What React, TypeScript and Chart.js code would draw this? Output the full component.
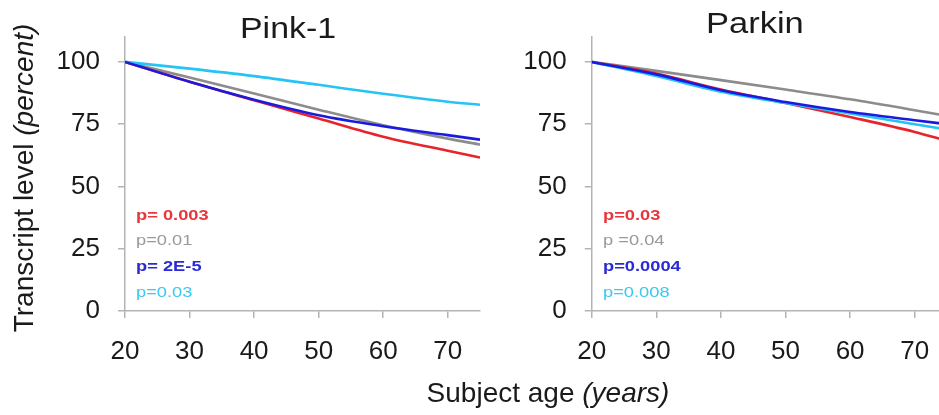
import React, { useEffect, useRef } from "react";
import { Chart, registerables } from "chart.js";

Chart.register(...registerables);

// ---- data ----
const ages = [20, 30, 40, 50, 60, 70, 75];
const xTickValues = [20, 30, 40, 50, 60, 70];
const yTickValues = [0, 25, 50, 75, 100];

const pinkRed = [100, 92.0, 84.6, 77.3, 70.0, 64.3, 61.6];
const pinkGray = [100, 93.7, 87.3, 80.8, 74.6, 69.2, 66.8];
const pinkBlue = [100, 92.0, 84.8, 78.6, 74.2, 70.6, 68.8];
const pinkCyan = [100, 97.3, 94.3, 90.8, 87.2, 84.0, 82.8];

const parkinRed = [100, 95.3, 88.9, 83.5, 77.9, 71.9, 68.3];
const parkinGray = [100, 96.4, 92.7, 88.9, 85.0, 80.6, 78.3];
const parkinBlue = [100, 95.0, 88.6, 83.9, 79.9, 76.6, 75.0];
const parkinCyan = [100, 94.3, 88.0, 83.5, 79.3, 75.0, 72.8];

const pinkPValues = ["p= 0.003", "p=0.01", "p= 2E-5", "p=0.03"];
const parkinPValues = ["p=0.03", "p =0.04", "p=0.0004", "p=0.008"];

const panelTitles = ["Pink-1", "Parkin"];
const yAxisTitle = "Transcript level ";
const yAxisTitleUnit = "(percent)";
const xAxisTitle = "Subject age ";
const xAxisTitleUnit = "(years)";

// ---- styles ----
const RED = "#e8232b";
const GRAY = "#8c8c8c";
const BLUE = "#1b1be0";
const CYAN = "#25c4f4";
const TEXT_COLORS = ["#e8363d", "#9a9a9a", "#2a2ad6", "#3cc8f2"];
const TEXT_WEIGHTS = [700, 400, 700, 400];
const AXIS = "#b4b4b4";
const FONT = "'Liberation Sans', Arial, Helvetica, sans-serif";

type Series = { values: number[]; color: string };

function makeConfig(series: Series[], yAxisWidth: number, padRight: number): any {
  const tickStyle = {
    font: { family: FONT, size: 26 },
    color: "#1a1a1a",
    padding: 18,
    maxRotation: 0,
    autoSkip: false,
  };
  const grid = {
    drawOnChartArea: false,
    drawTicks: true,
    tickLength: 7,
    color: AXIS,
    lineWidth: 1.5,
  };
  const border = { display: true, color: AXIS, width: 1.5 };
  return {
    type: "line",
    data: {
      datasets: series.map((s) => ({
        data: ages.map((a, i) => ({ x: a, y: s.values[i] })),
        borderColor: s.color,
        borderWidth: 2.6,
        pointRadius: 0,
        cubicInterpolationMode: "monotone",
        fill: false,
      })),
    },
    options: {
      animation: false,
      responsive: false,
      maintainAspectRatio: false,
      layout: { padding: { left: 0, right: padRight, top: 37, bottom: 0 } },
      plugins: {
        legend: { display: false },
        tooltip: { enabled: false },
        title: { display: false },
      },
      scales: {
        x: {
          type: "linear",
          min: 20,
          max: 75,
          afterBuildTicks: (s: any) => {
            s.ticks = xTickValues.map((v) => ({ value: v }));
          },
          afterFit: (s: any) => {
            s.height = 104;
          },
          grid,
          border,
          ticks: tickStyle,
        },
        y: {
          type: "linear",
          min: 0,
          max: 110,
          afterBuildTicks: (s: any) => {
            s.ticks = yTickValues.map((v) => ({ value: v }));
          },
          afterFit: (s: any) => {
            s.width = yAxisWidth;
          },
          grid,
          border,
          ticks: tickStyle,
        },
      },
    },
  };
}

function Panel(props: {
  left: number;
  width: number;
  yAxisWidth: number;
  padRight: number;
  series: Series[];
}) {
  const ref = useRef<HTMLCanvasElement | null>(null);
  useEffect(() => {
    if (!ref.current) return;
    const chart = new Chart(ref.current, makeConfig(props.series, props.yAxisWidth, props.padRight));
    return () => chart.destroy();
  }, []);
  return (
    <canvas
      ref={ref}
      width={props.width}
      height={415}
      style={{ position: "absolute", left: props.left, top: 0, width: props.width, height: 415, display: "block" }}
    />
  );
}

function Label(props: {
  text: React.ReactNode;
  left: number;
  baseline: number;
  size: number;
  color?: string;
  scaleX?: number;
  weight?: number;
}) {
  return (
    <div
      style={{
        position: "absolute",
        left: props.left,
        top: props.baseline - 0.8465 * props.size,
        fontFamily: FONT,
        fontSize: props.size,
        fontWeight: props.weight || 400,
        lineHeight: 1,
        whiteSpace: "pre",
        color: props.color || "#1a1a1a",
        transform: `scaleX(${props.scaleX || 1})`,
        transformOrigin: "left center",
      }}
    >
      {props.text}
    </div>
  );
}

export default function App() {
  const pinkSeries: Series[] = [
    { values: pinkBlue, color: BLUE },
    { values: pinkCyan, color: CYAN },
    { values: pinkRed, color: RED },
    { values: pinkGray, color: GRAY },
  ];
  const parkinSeries: Series[] = [
    { values: parkinBlue, color: BLUE },
    { values: parkinCyan, color: CYAN },
    { values: parkinRed, color: RED },
    { values: parkinGray, color: GRAY },
  ];
  const pBaselines = [219.8, 245.5, 271.2, 296.9];
  const ySize = 28;
  return (
    <div
      style={{
        position: "absolute",
        left: 0,
        top: 0,
        width: 939,
        height: 415,
        overflow: "hidden",
        background: "#ffffff",
      }}
    >
      <Panel left={0} width={490} yAxisWidth={125} padRight={10} series={pinkSeries} />
      <Panel left={480} width={480} yAxisWidth={111.7} padRight={13} series={parkinSeries} />

      <Label text={panelTitles[0]} left={240.4} baseline={38.3} size={30} scaleX={1.13} />
      <Label text={panelTitles[1]} left={706} baseline={33.3} size={30} scaleX={1.15} />

      {pinkPValues.map((t, i) => (
        <Label key={"a" + i} text={t} left={135.5} baseline={pBaselines[i]} size={15.5} color={TEXT_COLORS[i]} weight={TEXT_WEIGHTS[i]} scaleX={1.18} />
      ))}
      {parkinPValues.map((t, i) => (
        <Label key={"b" + i} text={t} left={603} baseline={pBaselines[i]} size={15.5} color={TEXT_COLORS[i]} weight={TEXT_WEIGHTS[i]} scaleX={1.18} />
      ))}

      <Label
        text={
          <>
            {xAxisTitle}
            <i>{xAxisTitleUnit}</i>
          </>
        }
        left={426.6}
        baseline={403}
        size={28}
      />

      <div
        style={{
          position: "absolute",
          left: 24 - 200,
          top: 178 - ySize / 2,
          width: 400,
          height: ySize,
          textAlign: "center",
          fontFamily: FONT,
          fontSize: ySize,
          lineHeight: 1,
          whiteSpace: "pre",
          color: "#1a1a1a",
          transform: "rotate(-90deg)",
          transformOrigin: "center center",
        }}
      >
        {yAxisTitle}
        <i>{yAxisTitleUnit}</i>
      </div>
    </div>
  );
}
